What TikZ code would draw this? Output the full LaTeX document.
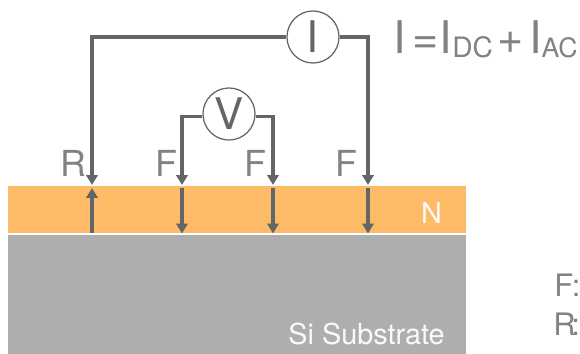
\documentclass[tikz,border=0pt]{standalone}
\usepackage{fontspec}
\setmainfont{TeX Gyre Heros}
\usetikzlibrary{arrows.meta}
\definecolor{wirecol}{HTML}{636668}
\definecolor{textcol}{HTML}{808284}
\definecolor{layercol}{HTML}{FDBB68}
\definecolor{subcol}{HTML}{AEAEAE}
\tikzset{
	wire/.style={draw=wirecol, line width=2.4pt},
	probe/.style={wire, -{Stealth[length=7pt,width=8pt,inset=0pt]}},
	meter/.style={draw=wirecol, fill=white, circle, line width=0.9pt, minimum size=37pt, inner sep=0pt, text=wirecol},
	lab/.style={text=textcol, inner sep=0pt, anchor=base},
}
\begin{document}
\begin{tikzpicture}[x=0.025cm, y=-0.025cm]
	\useasboundingbox (0,0) rectangle (580,354);

	\fill[layercol] (8,186) rectangle (466,233.5);
	\fill[subcol] (8,235) rectangle (466,354);

	\node[meter, font=\fontsize{31}{31}\selectfont] (I) at (313,37) {I};
	\node[meter, font=\fontsize{31}{31}\selectfont] (V) at (229,114) {V};

	\coordinate (r1) at (92,185);
	\coordinate (f1) at (182,185);
	\coordinate (f2) at (273,185);
	\coordinate (f3) at (368,185);
	\coordinate (r1a) at (92,188);
	\coordinate (r1b) at (92,233.5);
	\coordinate (f1a) at (182,188);
	\coordinate (f1b) at (182,233.5);
	\coordinate (f2a) at (273,188);
	\coordinate (f2b) at (273,233.5);
	\coordinate (f3a) at (368,188);
	\coordinate (f3b) at (368,233.5);

	\draw[probe] (I.west) -| (r1);
	\draw[probe] (I.east) -| (f3);
	\draw[probe] (V.west |- 0,116.5) -| (f1);
	\draw[probe] (V.east |- 0,116.5) -| (f2);

	\draw[probe] (r1b) -- (r1a);
	\draw[probe] (f1a) -- (f1b);
	\draw[probe] (f2a) -- (f2b);
	\draw[probe] (f3a) -- (f3b);

	\node[lab, font=\fontsize{25.5}{25.5}\selectfont] (Rlab) at (73.5,176.5) {R};
	\node[lab, font=\fontsize{25.5}{25.5}\selectfont] (F1lab) at (166,176.5) {F};
	\node[lab, font=\fontsize{25.5}{25.5}\selectfont] (F2lab) at (255,176.5) {F};
	\node[lab, font=\fontsize{25.5}{25.5}\selectfont] (F3lab) at (346.5,176.5) {F};

	\node[lab, text=white!92!layercol, font=\fontsize{20.5}{20.5}\selectfont] (Nlab) at (431.5,223.5) {N};
	\node[lab, text=white!92!subcol, font=\fontsize{20.5}{20.5}\selectfont, anchor=base east] (Silab) at (445,345) {Si Substrate};

	\node[lab, anchor=base west, font=\fontsize{32}{32}\selectfont] (eq) at (393,53.5) {I\kern5pt=\kern0.5pt I\lower3pt\hbox{\fontsize{20}{20}\selectfont DC}\kern3pt+\kern4pt I\lower3pt\hbox{\fontsize{19}{19}\selectfont AC}};

	\node[lab, anchor=base west, font=\fontsize{22}{22}\selectfont] (Fkey) at (554,297) {F\kern-1pt:};
	\node[lab, anchor=base west, font=\fontsize{22}{22}\selectfont] (Rkey) at (553,335) {R\kern-3pt:};
\end{tikzpicture}
\end{document}
